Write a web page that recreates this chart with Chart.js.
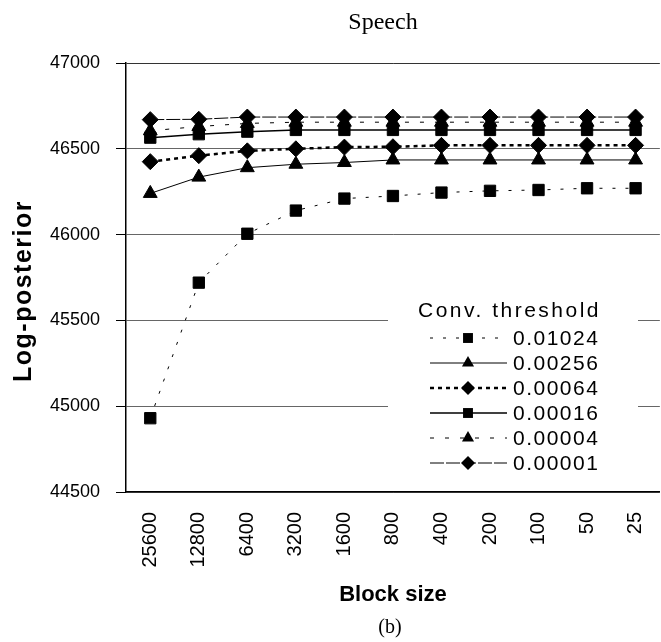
<!DOCTYPE html>
<html>
<head>
<meta charset="utf-8">
<script src="https://cdn.jsdelivr.net/npm/chart.js@4/dist/chart.umd.min.js"></script>
<style>
    html, body { margin: 0; padding: 0; background: #fff; overflow: hidden; }
    #wrap { width: 680px; height: 642px; }
</style>
</head>
<body>
<div id="wrap"><canvas id="chart" width="680" height="642"></canvas></div>
<script>
// block sizes (x categories)
const blockSizes = ['25600', '12800', '6400', '3200', '1600', '800', '400', '200', '100', '50', '25'];

// log-posterior per convergence threshold
const thr01024 = [44930, 45720, 46005, 46140, 46210, 46225, 46245, 46255, 46260, 46270, 46270];
const thr00256 = [46240, 46335, 46390, 46410, 46420, 46435, 46435, 46435, 46435, 46435, 46435];
const thr00064 = [46425, 46460, 46488, 46500, 46510, 46512, 46520, 46520, 46520, 46520, 46520];
const thr00016 = [46565, 46585, 46600, 46610, 46610, 46610, 46610, 46610, 46610, 46610, 46610];
const thr00004 = [46605, 46630, 46648, 46655, 46655, 46655, 46655, 46655, 46655, 46655, 46655];
const thr00001 = [46670, 46672, 46685, 46685, 46685, 46685, 46685, 46685, 46685, 46685, 46685];

const seriesNames = ['0.01024', '0.00256', '0.00064', '0.00016', '0.00004', '0.00001'];
const yTicks = [44500, 45000, 45500, 46000, 46500, 47000];

function makeSet(label, data, style, dash, width) {
    return {
        label: label,
        data: data,
        borderColor: '#000',
        backgroundColor: '#000',
        borderWidth: width,
        borderDash: dash,
        pointStyle: style,
        pointRadius: 8,
        pointHoverRadius: 8,
        pointBorderWidth: 1,
        pointBackgroundColor: '#000',
        pointBorderColor: '#000',
        tension: 0
    };
}

// draws one marker the same way chart.js does
function marker(ctx, style, x, y, r) {
    ctx.beginPath();
    if (style === 'rect') {
        const s = r * Math.SQRT1_2;
        ctx.rect(x - s, y - s, 2 * s, 2 * s);
    } else if (style === 'triangle') {
        let a = 0;
        ctx.moveTo(x + Math.sin(a) * r, y - Math.cos(a) * r);
        a += 2 * Math.PI / 3;
        ctx.lineTo(x + Math.sin(a) * r, y - Math.cos(a) * r);
        a += 2 * Math.PI / 3;
        ctx.lineTo(x + Math.sin(a) * r, y - Math.cos(a) * r);
        ctx.closePath();
    } else {
        ctx.moveTo(x, y - r);
        ctx.lineTo(x + r, y);
        ctx.lineTo(x, y + r);
        ctx.lineTo(x - r, y);
        ctx.closePath();
    }
    ctx.fill();
}

const textPlugin = {
    id: 'paperText',
    afterDraw(chart) {
        const ctx = chart.ctx;
        ctx.save();
        ctx.fillStyle = '#000';

        ctx.font = '24px "Liberation Serif", "Times New Roman", serif';
        ctx.textAlign = 'center';
        ctx.textBaseline = 'middle';
        ctx.fillText('Speech', 383, 23);

        ctx.font = '20px "Liberation Serif", "Times New Roman", serif';
        ctx.fillText('(b)', 390, 628);

        // y axis title
        ctx.save();
        ctx.translate(24, 291);
        ctx.rotate(-Math.PI / 2);
        ctx.font = 'bold 25px "Liberation Sans", Arial, sans-serif';
        ctx.letterSpacing = '1.5px';
        ctx.fillText('Log-posterior', 0, 0);
        ctx.restore();

        // legend box inside the plot
        ctx.fillStyle = '#fff';
        ctx.fillRect(388, 290, 250, 190);
        ctx.fillStyle = '#000';
        ctx.textAlign = 'left';
        ctx.font = '21px "Liberation Sans", Arial, sans-serif';
        ctx.letterSpacing = '2.5px';
        ctx.fillText('Conv. threshold', 418, 311);
        ctx.letterSpacing = '1.5px';
        chart.data.datasets.forEach((ds, i) => {
            const y = 338 + i * 25;
            ctx.save();
            ctx.strokeStyle = '#000';
            ctx.lineWidth = ds.borderWidth;
            ctx.setLineDash(ds.borderDash);
            ctx.beginPath();
            ctx.moveTo(430, y);
            ctx.lineTo(507, y);
            ctx.stroke();
            ctx.restore();
            marker(ctx, ds.pointStyle, 468, y, 7);
            ctx.fillText(ds.label, 513, y + 1);
        });
        ctx.restore();
    }
};

new Chart(document.getElementById('chart'), {
    type: 'line',
    data: {
        labels: blockSizes,
        datasets: [
            makeSet(seriesNames[0], thr01024, 'rect', [3, 10], 1),
            makeSet(seriesNames[1], thr00256, 'triangle', [], 1),
            makeSet(seriesNames[2], thr00064, 'rectRot', [4, 4], 2.5),
            makeSet(seriesNames[3], thr00016, 'rect', [], 1.5),
            makeSet(seriesNames[4], thr00004, 'triangle', [4, 11], 1),
            makeSet(seriesNames[5], thr00001, 'rectRot', [14, 2], 1)
        ]
    },
    options: {
        responsive: false,
        animation: false,
        events: [],
        layout: { padding: { left: 10, right: 9, top: 63, bottom: 34 } },
        plugins: {
            legend: { display: false },
            tooltip: { enabled: false }
        },
        scales: {
            x: {
                offset: true,
                grid: { display: false, drawTicks: false },
                border: { display: true, color: '#000', width: 1.5 },
                ticks: {
                    color: '#000',
                    font: { family: '"Liberation Sans", Arial', size: 20 },
                    minRotation: 90,
                    maxRotation: 90,
                    padding: 20,
                    autoSkip: false
                },
                title: {
                    display: true,
                    text: 'Block size',
                    color: '#000',
                    font: { family: '"Liberation Sans", Arial', size: 22, weight: 'bold' },
                    padding: { top: 0, bottom: 0 }
                },
                afterFit(scale) { scale.height = 116; }
            },
            y: {
                min: yTicks[0],
                max: yTicks[yTicks.length - 1],
                afterBuildTicks(scale) { scale.ticks = yTicks.map(v => ({ value: v })); },
                grid: {
                    color: (c) => (c.tick && c.tick.value === 47000) ? '#333' : '#666',
                    tickColor: '#000',
                    tickLength: 10,
                    lineWidth: 1
                },
                border: { display: true, color: '#000', width: 1.5 },
                ticks: {
                    color: '#000',
                    font: { family: '"Liberation Sans", Arial', size: 18 },
                    padding: 16,
                    callback: (v) => String(v)
                },
                afterFit(scale) { scale.width = 116; }
            }
        }
    },
    plugins: [textPlugin]
});
</script>
</body>
</html>
